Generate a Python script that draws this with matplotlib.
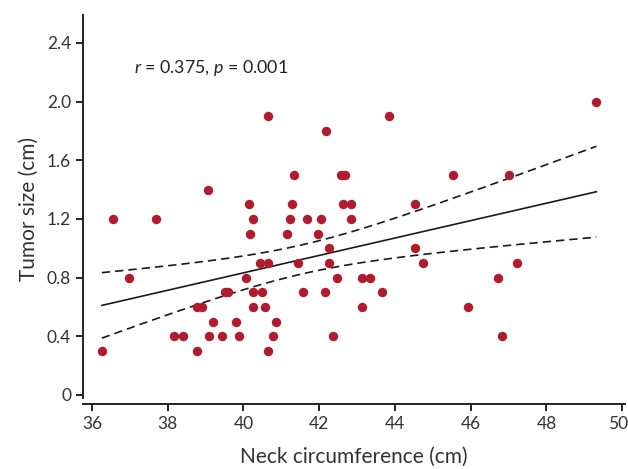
import numpy as np
import matplotlib
matplotlib.use("Agg")
import matplotlib.pyplot as plt
import matplotlib.transforms as mtransforms

plt.rcParams['font.family'] = ['Lato', 'DejaVu Sans']
plt.rcParams['mathtext.fontset'] = 'custom'
plt.rcParams['mathtext.rm'] = 'Lato'
plt.rcParams['mathtext.it'] = 'Lato:italic'

# neck circumference (cm) and tumor size (cm)
neck = [36.26, 36.56, 36.97, 37.69, 38.17, 38.40, 38.77, 38.77, 38.90, 39.06,
        39.08, 39.19, 39.44, 39.52, 39.59, 39.79, 39.89, 40.07, 40.15, 40.16,
        40.24, 40.24, 40.26, 40.43, 40.48, 40.57, 40.64, 40.65, 40.66, 40.77,
        40.85, 41.16, 41.24, 41.27, 41.34, 41.45, 41.56, 41.67, 41.96, 42.05,
        42.16, 42.17, 42.25, 42.26, 42.36, 42.48, 42.57, 42.69, 42.62, 42.83,
        42.84, 43.14, 43.33, 43.14, 43.65, 43.83, 44.53, 44.53, 44.74, 45.52,
        45.93, 46.71, 46.82, 47.02, 47.21, 49.32]
tumor = [0.30, 1.20, 0.80, 1.20, 0.40, 0.40, 0.30, 0.60, 0.60, 1.40,
         0.40, 0.50, 0.40, 0.70, 0.70, 0.50, 0.40, 0.80, 1.30, 1.10,
         1.20, 0.70, 0.60, 0.90, 0.70, 0.60, 0.30, 1.90, 0.90, 0.40,
         0.50, 1.10, 1.20, 1.30, 1.50, 0.90, 0.70, 1.20, 1.10, 1.20,
         0.70, 1.80, 1.00, 0.90, 0.40, 0.80, 1.50, 1.50, 1.30, 1.30,
         1.20, 0.80, 0.80, 0.60, 0.70, 1.90, 1.30, 1.00, 0.90, 1.50,
         0.60, 0.80, 0.40, 1.50, 0.90, 2.00]

xticks = [36, 38, 40, 42, 44, 46, 48, 50]
yticks = [0, 0.4, 0.8, 1.2, 1.6, 2.0, 2.4]
ylabels = ["0", "0.4", "0.8", "1.2", "1.6", "2.0", "2.4"]

# linear fit with 95% confidence band of the mean
x = np.array(neck)
y = np.array(tumor)
n = len(x)
b, a = np.polyfit(x, y, 1)
xs = np.linspace(x.min(), x.max(), 100)
fit = a + b * xs
resid = y - (a + b * x)
s = np.sqrt(np.sum(resid ** 2) / (n - 2))
se = s * np.sqrt(1 / n + (xs - x.mean()) ** 2 / np.sum((x - x.mean()) ** 2))
t = 1.997
upper = fit + t * se
lower = fit - t * se

fig = plt.figure(figsize=(6.28, 4.69), dpi=100)
ax = fig.add_axes([0.132, 0.139, 0.863, 0.829])

ax.plot(xs, fit, color="#1a1a1a", lw=1.2)
ax.plot(xs, upper, color="#1a1a1a", lw=1.2, ls=(0, (5, 3)))
ax.plot(xs, lower, color="#1a1a1a", lw=1.2, ls=(0, (5, 3)))
ax.scatter(neck, tumor, s=46, color="#b01c2e", zorder=3, linewidths=0)

ax.text(37.1, 2.23, r"$r$ = 0.375, $p$ = 0.001", fontsize=12.8, va="center", color="#222222")

ax.set_xlim(35.76, 50.07)
ax.set_ylim(-0.061, 2.59)
ax.set_xticks(xticks)
ax.set_yticks(yticks)
ax.set_yticklabels(ylabels)
ax.spines['top'].set_visible(False)
ax.spines['right'].set_visible(False)
ax.spines['left'].set_bounds(-0.02, 2.59)
for sp in ['left', 'bottom']:
    ax.spines[sp].set_linewidth(1.4)
    ax.spines[sp].set_color("#222222")
ax.tick_params(length=5, width=1.4, color="#222222", labelsize=12.5, labelcolor="#333333")
ax.set_xlabel("Neck circumference (cm)", fontsize=15, color="#333333", labelpad=11)
ax.set_ylabel("Tumor size (cm)", fontsize=15, color="#333333", labelpad=6)

# nudge the last x label so it stays inside the figure
last = ax.get_xticklabels()[-1]
last.set_transform(last.get_transform() + mtransforms.ScaledTranslation(-4 / 100, 0, fig.dpi_scale_trans))

fig.savefig("out.png", dpi=100)
